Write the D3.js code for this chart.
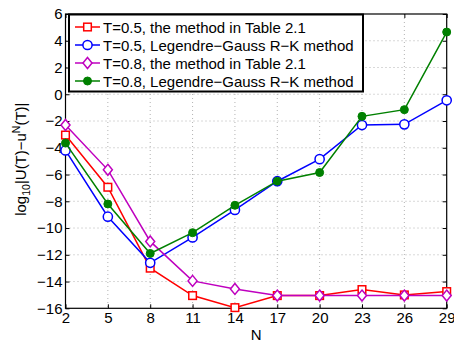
<!DOCTYPE html>
<html>
<head>
<meta charset="utf-8">
<script src="https://cdn.jsdelivr.net/npm/d3@7"></script>
<style>
  body { margin: 0; background: #fff; }
  svg { font-family: "Liberation Sans", Arial, sans-serif; }
</style>
</head>
<body>
<div class="chart"></div>
<script>
const nValues = [2, 5, 8, 11, 14, 17, 20, 23, 26, 29]
const yTicks = [6, 4, 2, 0, -2, -4, -6, -8, -10, -12, -14, -16]

const t05Table = [-3.05, -6.95, -13.0, -15.05, -15.95, -15.05, -15.05, -14.6, -15.0, -14.75]
const t05Legendre = [-4.2, -9.15, -12.6, -10.7, -8.65, -6.5, -4.85, -2.3, -2.25, -0.45]
const t08Table = [-2.3, -5.65, -11.0, -13.95, -14.55, -15.05, -15.05, -15.05, -15.05, -15.05]
const t08Legendre = [-3.65, -8.2, -11.9, -10.35, -8.3, -6.5, -5.85, -1.65, -1.15, 4.65]

const series = [
  { name: 'T=0.5, the method in Table 2.1', values: t05Table, color: '#ff0000', marker: 'square' },
  { name: 'T=0.5, Legendre\u2212Gauss R\u2212K method', values: t05Legendre, color: '#0000ff', marker: 'circle' },
  { name: 'T=0.8, the method in Table 2.1', values: t08Table, color: '#bf00bf', marker: 'diamond' },
  { name: 'T=0.8, Legendre\u2212Gauss R\u2212K method', values: t08Legendre, color: '#008000', marker: 'dot' }
]

const width = 454, height = 342
const margin = { top: 14, right: 7.3, bottom: 33.7, left: 65.5 }
const innerWidth = width - margin.left - margin.right
const innerHeight = height - margin.top - margin.bottom
const fontSize = 15

const svg = d3.select('.chart').append('svg').attr('width', width).attr('height', height)
const g = svg.append('g').attr('transform', `translate(${margin.left}, ${margin.top})`)

const x = d3.scaleLinear().domain([2, 29]).range([0, innerWidth])
const y = d3.scaleLinear().domain([-16, 6]).range([innerHeight, 0])

// dotted grid
g.selectAll('.vgrid').data(nValues.slice(1, -1)).join('line')
  .attr('x1', d => x(d)).attr('x2', d => x(d)).attr('y1', 0).attr('y2', innerHeight)
  .attr('stroke', '#a0a0a0').attr('stroke-width', 0.8).attr('stroke-dasharray', '1,3')
g.selectAll('.hgrid').data(yTicks.slice(1, -1)).join('line')
  .attr('x1', 0).attr('x2', innerWidth).attr('y1', d => y(d)).attr('y2', d => y(d))
  .attr('stroke', '#a0a0a0').attr('stroke-width', 0.8).attr('stroke-dasharray', '1,3')

// axes, ticks inside
const tickLen = 4
const xAxis = d3.axisBottom(x).tickValues(nValues).tickSize(-tickLen).tickPadding(4.5)
const yAxis = d3.axisLeft(y).tickValues(yTicks).tickSize(-tickLen).tickPadding(3)
  .tickFormat(d => d < 0 ? '\u2212' + Math.abs(d) : d)

const gx = g.append('g').attr('transform', `translate(0, ${innerHeight})`).call(xAxis)
const gy = g.append('g').call(yAxis)
const gxTop = g.append('g').call(d3.axisTop(x).tickValues(nValues).tickSize(-tickLen))
const gyRight = g.append('g').attr('transform', `translate(${innerWidth}, 0)`)
  .call(d3.axisRight(y).tickValues(yTicks).tickSize(-tickLen))
gxTop.selectAll('text').remove()
gyRight.selectAll('text').remove()

;[gx, gy, gxTop, gyRight].forEach(a => {
  a.select('.domain').remove()
  a.selectAll('line').attr('stroke', '#000')
  a.selectAll('text').attr('font-size', fontSize).attr('fill', '#000')
    .attr('font-family', '"Liberation Sans", Arial, sans-serif')
})

g.append('rect').attr('width', innerWidth).attr('height', innerHeight)
  .attr('fill', 'none').attr('stroke', '#000').attr('stroke-width', 1.2)

// axis labels
g.append('text').attr('x', innerWidth / 2).attr('y', innerHeight + 31.5)
  .attr('text-anchor', 'middle').attr('font-size', fontSize).text('N')

const ylab = svg.append('text')
  .attr('transform', `translate(26, ${margin.top + innerHeight / 2 - 2}) rotate(-90)`)
  .attr('text-anchor', 'middle').attr('font-size', fontSize)
ylab.append('tspan').text('log')
ylab.append('tspan').attr('font-size', 10.5).attr('dy', 4).text('10')
ylab.append('tspan').attr('dy', -4).text('|U(T)\u2212u')
ylab.append('tspan').attr('font-size', 10.5).attr('dy', -6).text('N')
ylab.append('tspan').attr('dy', 6).text('(T)|')

function drawMarker(sel, marker, color) {
  if (marker === 'square') {
    sel.append('rect').attr('x', -3.8).attr('y', -3.8).attr('width', 7.6).attr('height', 7.6)
      .attr('fill', '#fff').attr('stroke', color).attr('stroke-width', 1.5)
  } else if (marker === 'circle') {
    sel.append('circle').attr('r', 4.6).attr('fill', '#fff').attr('stroke', color).attr('stroke-width', 1.5)
  } else if (marker === 'diamond') {
    sel.append('path').attr('d', 'M0,-5.5L4.5,0L0,5.5L-4.5,0Z')
      .attr('fill', '#fff').attr('stroke', color).attr('stroke-width', 1.5)
  } else {
    sel.append('circle').attr('r', 4).attr('fill', color).attr('stroke', color).attr('stroke-width', 1)
  }
}

const line = d3.line().x((d, i) => x(nValues[i])).y(d => y(d))

series.forEach(s => {
  g.append('path').datum(s.values).attr('d', line)
    .attr('fill', 'none').attr('stroke', s.color).attr('stroke-width', 1.5)
  s.values.forEach((v, i) => {
    const m = g.append('g').attr('transform', `translate(${x(nValues[i])}, ${y(v)})`)
    drawMarker(m, s.marker, s.color)
  })
})

// legend
const legend = svg.append('g').attr('transform', 'translate(69, 14.5)')
legend.append('rect').attr('width', 294).attr('height', 77)
  .attr('fill', '#fff').attr('stroke', '#000').attr('stroke-width', 2)
series.forEach((s, i) => {
  const row = legend.append('g').attr('transform', `translate(0, ${12.5 + i * 18})`)
  row.append('line').attr('x1', 6).attr('x2', 31).attr('stroke', s.color).attr('stroke-width', 1.5)
  drawMarker(row.append('g').attr('transform', 'translate(18.5, 0)'), s.marker, s.color)
  row.append('text').attr('x', 34).attr('y', 5.5).attr('font-size', fontSize).text(s.name)
})
</script>
</body>
</html>
